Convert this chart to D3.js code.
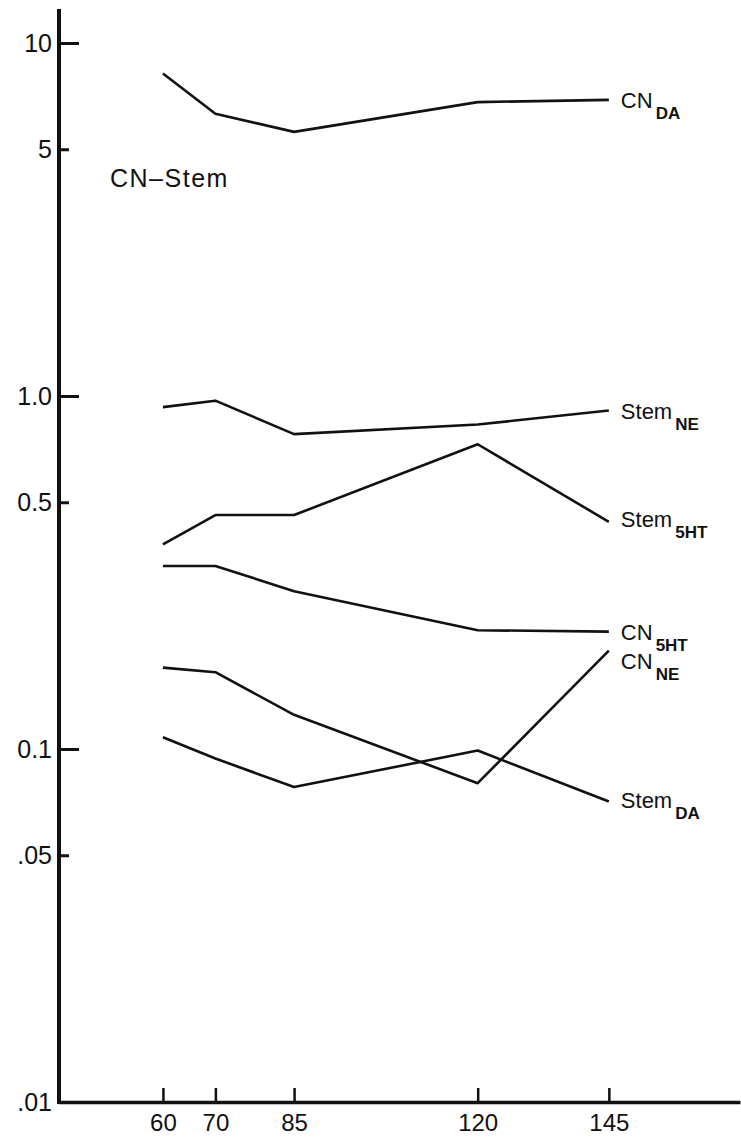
<!DOCTYPE html>
<html>
<head>
<meta charset="utf-8">
<script src="https://cdn.jsdelivr.net/npm/d3@7"></script>
<style>
  html, body { margin: 0; padding: 0; background: #fff; }
  svg { display: block; }
  text { font-family: "Liberation Sans", Arial, Helvetica, sans-serif; fill: #111; }
</style>
</head>
<body>
<svg id="chart" width="741" height="1137"></svg>
<script>
// ---- data ----
const ages = [60, 70, 85, 120, 145];
const xTickLabels = ["60", "70", "85", "120", "145"];
const yTickValues = [10, 5, 1, 0.5, 0.1, 0.05, 0.01];
const yTickLabels = ["10", "5", "1.0", "0.5", "0.1", ".05", ".01"];
const yMajorTicks = [10, 1, 0.1];
const yMinorTicks = [5, 0.5, 0.05];

const seriesNames = ["CN_DA", "Stem_NE", "Stem_5HT", "CN_5HT", "CN_NE", "Stem_DA"];
const cnDA    = [8.2, 6.3, 5.6, 6.8, 6.9];
const stemNE  = [0.93, 0.97, 0.78, 0.83, 0.91];
const stem5HT = [0.38, 0.46, 0.46, 0.73, 0.44];
const cn5HT   = [0.33, 0.33, 0.28, 0.217, 0.215];
const cnNE    = [0.17, 0.165, 0.125, 0.08, 0.19];
const stemDA  = [0.108, 0.094, 0.078, 0.099, 0.071];
const seriesValues = [cnDA, stemNE, stem5HT, cn5HT, cnNE, stemDA];
const chartTitle = "CN\u2013Stem";

// ---- layout ----
const svg = d3.select("#chart");
const x = d3.scaleLinear().domain([40, 170]).range([58, 740]);
const y = d3.scaleLog().domain([0.01, 10]).range([1102, 43]);

// y axis
const yAxis = d3.axisLeft(y)
  .tickValues(yTickValues)
  .tickFormat((d, i) => yTickLabels[i])
  .tickSizeInner(-20)
  .tickSizeOuter(0)
  .tickPadding(7);
const gy = svg.append("g").attr("transform", `translate(${x(40) + 1},0)`).call(yAxis);
gy.select(".domain").remove();
gy.selectAll(".tick line")
  .attr("stroke", "#111").attr("stroke-width", 3)
  .attr("x2", d => yMajorTicks.includes(d) ? 20 : (yMinorTicks.includes(d) ? 10 : 0));
gy.selectAll(".tick text").style("font-size", "25px").attr("fill", "#111");
gy.append("line")
  .attr("x1", 0).attr("x2", 0)
  .attr("y1", y(0.01) + 2).attr("y2", 9)
  .attr("stroke", "#111").attr("stroke-width", 4);

// x axis
const xAxis = d3.axisBottom(x)
  .tickValues(ages)
  .tickFormat((d, i) => xTickLabels[i])
  .tickSizeInner(-14)
  .tickSizeOuter(0)
  .tickPadding(12);
const gx = svg.append("g").attr("transform", `translate(0,${y(0.01)})`).call(xAxis);
gx.select(".domain").attr("stroke", "#111").attr("stroke-width", 3.5);
gx.selectAll(".tick line").attr("stroke", "#111").attr("stroke-width", 2.5);
gx.selectAll(".tick text").style("font-size", "24px").attr("fill", "#111");

// title text
svg.append("text")
  .attr("x", 110).attr("y", 187)
  .style("font-size", "25px")
  .style("letter-spacing", "1.5px")
  .text(chartTitle);

// lines
const line = d3.line()
  .x((d, i) => x(ages[i]))
  .y(d => y(d));

const labelDy = { CN_DA: 8, Stem_NE: 9, Stem_5HT: 5, CN_5HT: 8, CN_NE: 18, Stem_DA: 6 };

seriesNames.forEach((name, k) => {
  const vals = seriesValues[k];
  svg.append("path")
    .datum(vals)
    .attr("d", line)
    .attr("fill", "none")
    .attr("stroke", "#111")
    .attr("stroke-width", 2.6)
    .attr("stroke-linejoin", "round");

  const parts = name.split("_");
  const last = vals[vals.length - 1];
  const t = svg.append("text")
    .attr("x", x(ages[ages.length - 1]) + 12)
    .attr("y", y(last) + labelDy[name])
    .style("font-size", "22px");
  t.append("tspan").text(parts[0]);
  t.append("tspan")
    .attr("dx", 3)
    .attr("dy", 11)
    .style("font-size", "17px")
    .style("font-weight", "bold")
    .text(parts[1]);
});
</script>
</body>
</html>
